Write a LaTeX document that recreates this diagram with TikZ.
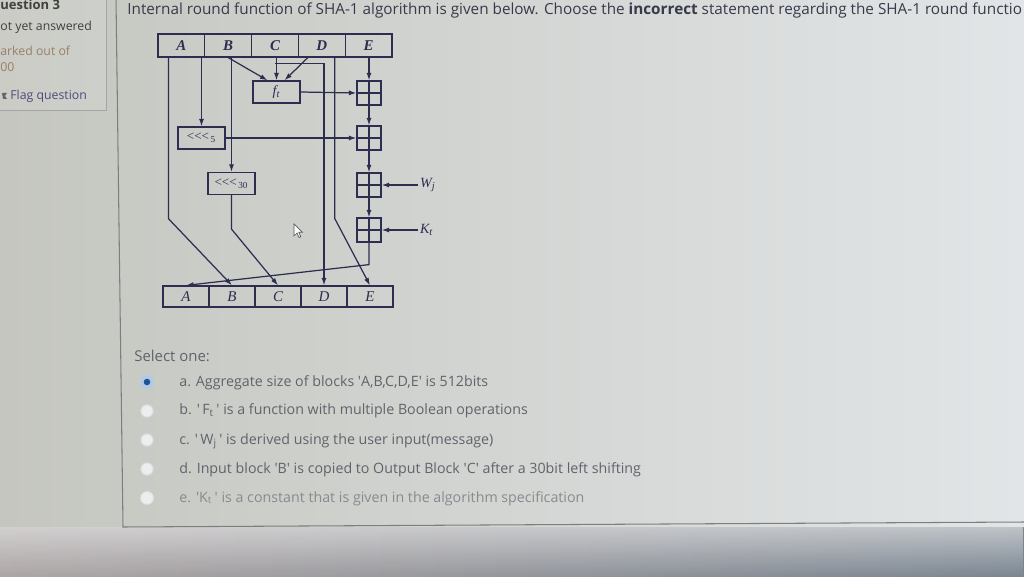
\documentclass[tikz,border=0pt]{standalone}
\usepackage{fontspec}
\setmainfont{Open Sans}
\newfontfamily\diagfont{Liberation Serif}
\usetikzlibrary{arrows.meta,calc,fadings}

\definecolor{ink}{RGB}{45,45,80}
\definecolor{txt}{RGB}{55,58,72}
\definecolor{opt}{RGB}{96,99,106}
\definecolor{bgL}{RGB}{196,198,191}
\definecolor{bgR}{RGB}{226,229,231}
\definecolor{rim}{RGB}{125,126,128}
\definecolor{sel}{RGB}{35,105,185}
\definecolor{floorL}{RGB}{172,165,165}
\definecolor{floorR}{RGB}{122,133,145}
\newcommand\sq{\textquotesingle}

\begin{document}
\begin{tikzpicture}[x=0.02cm, y=-0.02cm,
  reg/.style={draw=ink, line width=0.7pt, minimum width=0.936cm, minimum height=0.46cm,
              inner sep=0pt, text=ink, font=\diagfont\fontsize{8.5}{9}\selectfont\bfseries\itshape},
  outreg/.style={reg, minimum width=0.92cm, minimum height=0.42cm,
              font=\diagfont\fontsize{8.5}{9}\selectfont\itshape},
  opbox/.style={draw=ink, line width=0.7pt, minimum width=0.94cm, minimum height=0.44cm,
              inner sep=0pt, text=ink, font=\diagfont\fontsize{7.5}{8}\selectfont},
  adder/.style={draw=ink, line width=0.7pt, minimum size=0.48cm, inner sep=0pt,
              path picture={\draw[ink, line width=0.6pt]
                (path picture bounding box.north) -- (path picture bounding box.south)
                (path picture bounding box.west) -- (path picture bounding box.east);}},
  wire/.style={ink, line width=0.7pt},
  arr/.style={wire, -{Latex[length=1.5mm, width=1mm]}},
  side/.style={font=\fontsize{7}{8}\selectfont, inner sep=0pt},
  opt/.style={font=\fontsize{8.1}{9}\selectfont, text=opt, anchor=base west, inner sep=0pt},
  radio/.style={circle, draw=gray!30, fill=bgR!70!white, minimum size=0.25cm, inner sep=0pt, line width=0.6pt}
]
% ---------------- screen ----------------
\useasboundingbox (0,0) rectangle (1024,577);
\clip (0,0) rectangle (1024,577);
\shade[left color=bgL, right color=bgR] (0,0) rectangle (1024,577);
\shade[left color=floorL, right color=floorR] (0,527) rectangle (1024,577);
\fill[white!85!gray, opacity=0.6, path fading=south] (0,527) rectangle (1024,577);
\draw[rim!70, fill=white, fill opacity=0.12] (-2,-2) rectangle (106,110);
\draw[rim, line width=0.6pt] (116,-2) -- (123,527) -- (1026,522);

% ---------------- side panel ----------------
\node[side, anchor=base west, font=\fontsize{7.4}{8}\selectfont\bfseries, text=black!75] (qnum) at (0,9.5) {uestion 3};
\node[side, anchor=base west, text=black!75] (state) at (0,31) {ot yet answered};
\node[side, anchor=base west, text=brown!40!gray] (mark) at (0,56) {arked out of};
\node[side, anchor=base west, text=brown!40!gray] (pts) at (0,72) {00};
\node[side, anchor=base west, text=blue!25!black!70] (flag) at (10,100) {Flag question};
\fill[black!60] (2,93) -- (7,93) -- (5,96) -- (7,99) -- (3,99) -- cycle;

% ---------------- question ----------------
\node[anchor=base west, inner sep=0pt, text=txt, font=\fontsize{8.7}{10}\selectfont] (title) at (127,15)
  {Internal round function of SHA-1 algorithm is given below. Choose the \textbf{incorrect} statement regarding the SHA-1 round functio};

% ---------------- round diagram ----------------
\foreach \n [count=\i] in {A,B,C,D,E}
  \node[reg] (t\n) at ({181.4+46.8*(\i-1)},45.5) {\n};
\foreach \n [count=\i] in {A,B,C,D,E}
  \node[outreg] (b\n) at ({186+46*(\i-1)},296.5) {\n};

\node[opbox, font=\diagfont\fontsize{8}{9}\selectfont\itshape] (ft) at (276.5,92) {f\textsubscript{t}};
\node[opbox] (rot5) at (201.5,138) {<{}<{}<\textsubscript{\,5}};
\node[opbox] (rot30) at (231.5,183.5) {<{}<{}<\textsubscript{\,30}};

\node[adder] (add1) at (369,93) {};
\node[adder] (add2) at (369,138) {};
\node[adder] (add3) at (369,185) {};
\node[adder] (add4) at (369,230) {};

\coordinate (wIn) at (418,185);
\coordinate (kIn) at (418,230);
\node[anchor=west, inner sep=1pt, text=ink, font=\diagfont\fontsize{8}{9}\selectfont\itshape] (wlbl) at (wIn) {W\textsubscript{j}};
\node[anchor=west, inner sep=1pt, text=ink, font=\diagfont\fontsize{8}{9}\selectfont\itshape] (klbl) at (kIn) {K\textsubscript{t}};

% inputs of f_t
\draw[arr] (tB.south) -- ($(ft.north)+(-9,0)$);
\draw[arr] (tC.south -| ft.north) -- (ft.north);
\draw[arr] ($(tD.south)+(-14,0)$) -- ($(ft.north)+(8,0)$);
% adder chain
\draw[arr] (tE.south -| add1.north) -- (add1.north);
\draw[arr] (ft.east) -- (add1.west);
\draw[arr] (add1.south) -- (add2.north);
\draw[arr] (rot5.east) -- (add2.west);
\draw[arr] (add2.south) -- (add3.north);
\draw[arr] (wIn) -- (add3.east);
\draw[arr] (add3.south) -- (add4.north);
\draw[arr] (kIn) -- (add4.east);
% rotations
\draw[arr] (tA.south -| rot5.north) -- (rot5.north);
\draw[arr] (tB.south -| rot30.north) -- (rot30.north);
% to the output
\draw[arr] (add4.south) -- ++(0,22) -- (bA.north);
\draw[arr] ($(tA.south)+(-13,0)$) -- ++(0,161) -- (bB.north);
\draw[arr] (rot30.south) -- ++(0,34) -- (bC.north);
\draw[arr] ($(tC.south)+(0,6)$) -| (bD.north);
\draw[arr] ($(tD.south)+(13,0)$) -- ++(0,161) -- (bE.north);

% pointer
\draw[fill=white, draw=black!65, line width=0.4pt] (294,224) -- ++(0,12) -- ++(3,-3) -- ++(2,4.5)
  -- ++(1.8,-0.8) -- ++(-2,-4.4) -- ++(3.7,0) -- cycle;

% ---------------- answers ----------------
\node[anchor=base west, inner sep=0pt, text=opt, font=\fontsize{8.5}{10}\selectfont] (select) at (134,361) {Select one:};
\node[circle, fill=sel!35!white, minimum size=0.27cm, inner sep=0pt] (ra) at (147,382) {};
\fill[sel!80!black] (ra) circle (3.3);
\node[radio] (rb) at (147,411) {};
\node[radio] (rc) at (147,440) {};
\node[radio] (rd) at (147,469) {};
\node[radio, draw=gray!20] (re) at (147,498) {};
\node[opt] (oa) at (179,386) {a. Aggregate size of blocks \sq A,B,C,D,E\sq\ is 512bits};
\node[opt] (ob) at (179,415) {b. \sq\,F\textsubscript{t}\,\sq\ is a function with multiple Boolean operations};
\node[opt] (oc) at (179,444) {c. \sq\,W\textsubscript{j}\,\sq\ is derived using the user input(message)};
\node[opt] (od) at (179,473) {d. Input block \sq B\sq\ is copied to Output Block \sq C\sq\ after a 30bit left shifting};
\node[opt, text=opt!75!white] (oe) at (179,502) {e. \sq K\textsubscript{t}\,\sq\ is a constant that is given in the algorithm specification};
\end{tikzpicture}
\end{document}
